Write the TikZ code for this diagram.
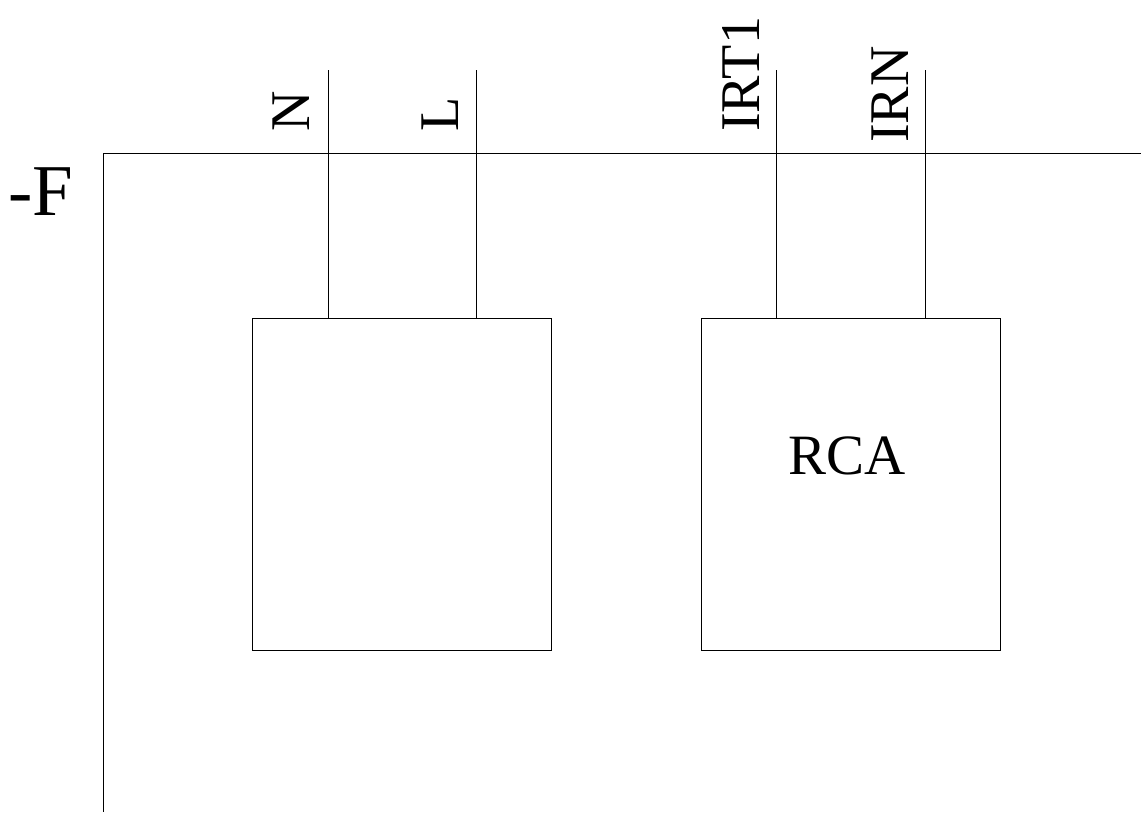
\documentclass[tikz,border=0pt]{standalone}
\usepackage{fontspec}
\setmainfont{Liberation Serif}
\begin{document}
\begin{tikzpicture}[x=1pt,y=-1pt,
  wire/.style={line width=1pt, black},
  devbox/.style={draw, line width=1pt, inner sep=0pt, minimum width=299pt, minimum height=332pt},
  pinlabel/.style={rotate=90, anchor=base west, inner sep=0pt, font=\fontsize{56}{60}\selectfont},
  boxtext/.style={anchor=base, inner sep=0pt, font=\fontsize{57}{60}\selectfont},
  reflabel/.style={anchor=base west, inner sep=0pt, font=\fontsize{73}{80}\selectfont}]
\useasboundingbox (0,0) rectangle (1141,812);
% frame
\coordinate (fr) at (1141,153);
\coordinate (fc) at (103,153);
\coordinate (fb) at (103,812);
\draw[wire] (fr) -- (fc) -- (fb);
\node[reflabel] (ref) at (8,215) {-F};
% boxes
\node[devbox] (b1) at (401.5,484) {};
\node[devbox] (b2) at (850.5,484) {};
\node[boxtext] (rca) at (847.5,474) {RCA};
% wire tops
\coordinate (tN) at (328,70);
\coordinate (tL) at (476,70);
\coordinate (tI1) at (776,70);
\coordinate (tIN) at (925,70);
\draw[wire] (tN) -- (tN |- b1.north);
\draw[wire] (tL) -- (tL |- b1.north);
\draw[wire] (tI1) -- (tI1 |- b2.north);
\draw[wire] (tIN) -- (tIN |- b2.north);
% labels
\node[pinlabel] (lN) at (309,132) {N};
\node[pinlabel] (lL) at (458,132) {L};
\node[pinlabel] (lI1) at (759,132) {IRT1};
\node[pinlabel] (lIN) at (908,143) {IRN};
\end{tikzpicture}
\end{document}
